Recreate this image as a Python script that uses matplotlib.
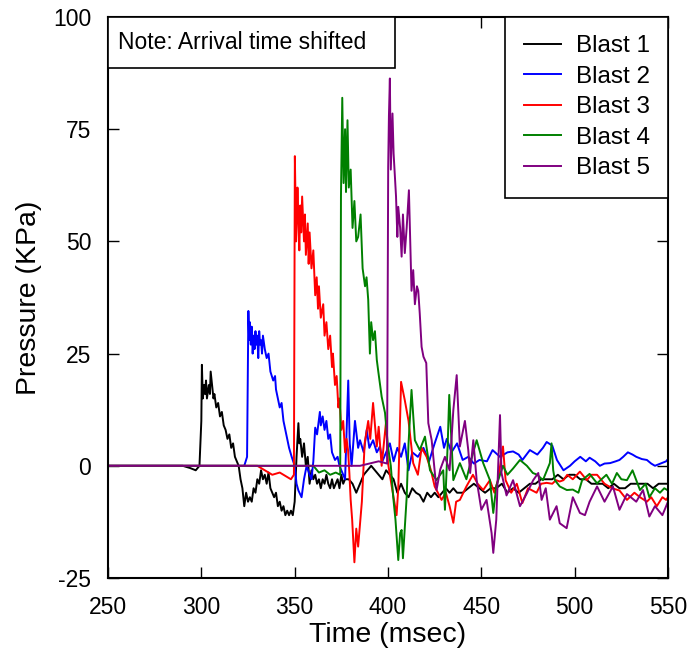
import numpy as np
import matplotlib
matplotlib.use("Agg")
import matplotlib.pyplot as plt
from matplotlib.patches import Rectangle

plt.rcParams['font.family'] = ['Liberation Sans', 'DejaVu Sans']
plt.rcParams['axes.unicode_minus'] = False

# Blast 1 (black)
t1 = [250, 290, 294, 297, 299, 300, 300.3, 300.8, 301.5, 302, 302.5, 303, 304, 304.6, 305, 306,
      306.5, 307, 308, 309, 310, 311, 312, 313, 314, 315, 316, 317, 318, 319, 320, 321, 322,
      323, 324, 325, 326, 327, 328, 329, 330, 331, 332, 333, 334, 335, 336, 337, 338, 339, 340,
      341, 342, 343, 344, 345, 346, 347, 348, 349, 350, 351, 352, 352.5, 353, 354, 355, 356,
      357, 358, 359, 360, 361, 362, 363, 364, 365, 366, 367, 368, 369, 370, 371, 372, 373, 374,
      375, 376, 377, 379, 381, 383, 385, 387, 389, 391, 393, 395, 397, 399, 401, 403, 405, 407,
      409, 411, 413, 415, 417, 419, 421, 423, 425, 427, 429, 431, 433, 435, 437, 440, 443, 446,
      449, 452, 455, 458, 461, 464, 467, 470, 473, 476, 479, 482, 485, 488, 491, 494, 497, 500,
      503, 506, 509, 512, 515, 518, 521, 524, 527, 530, 533, 536, 539, 542, 545, 548, 550]
p1 = [0, 0, -0.5, -1, 0, 10, 22.5, 15, 18, 16, 19, 15, 18, 16, 21, 17,
      15, 16, 13, 14, 11, 12, 9, 8, 6, 7, 4, 5, 2, 1, 0, -3, -5,
      -9, -6, -8, -7, -8, -5, -6, -3, -4, -1, -3, -2, -4, -1.5, -5, -6, -7, -6,
      -9, -8, -10, -9, -11, -10, -11, -10, -11, -8, 2, 9.5, 5, 6, 2, 5, 0,
      2, -4, -1, -3, -2, -4, -3, -5, -3, -4, -2, -4, -5, -3, -5, -4, -3, -5,
      -2, -4, -3, -3, -4, -6, -4, -2, -1, 0, -1, -2, -3, -1, -2, -3, -6, -4,
      -6, -7, -5, -6, -6.5, -8, -6, -7, -6, -7, -6, -5, -6, -5, -6, -6, -5, -4,
      -5, -6, -5, -5, -4, -6, -5, -6, -5, -4, -4, -3, -3, -3, -2, -3, -2, -2,
      -3, -3, -4, -4, -4, -5, -4, -5, -5, -4, -4, -4, -4, -5, -4, -4, -4]

# Blast 2 (blue)
t2 = [250, 323, 324.5, 325.2, 325.6, 326, 326.5, 327, 327.5, 328, 328.5, 329, 329.5, 330, 330.5,
      331, 331.5, 332, 332.5, 333, 334, 335, 336, 337, 338.5, 339.5, 340, 341, 342, 343, 344,
      345, 345.7, 347, 348.4, 350, 351, 352, 353.7, 355, 356.4, 358, 359, 360, 361, 362, 363.5,
      364, 365, 366, 367, 368, 369, 370, 371.6, 373, 374, 376, 377, 378.7, 379.5, 380.5, 382.3,
      384, 385, 387, 388.6, 390, 392, 394, 395.7, 397, 399, 401, 403, 405, 407, 409, 411, 413,
      416, 419, 422, 425, 428, 430, 431.5, 434, 437, 440, 443, 446, 449, 453, 456, 460, 464,
      467, 470, 472, 476, 480, 483, 485, 488, 490.5, 494, 497.5, 500, 503, 506, 508, 511, 513.5,
      516, 519, 522, 524, 526, 528.5, 531, 533, 536, 538.7, 541, 543, 546, 549, 550]
p2 = [0, 0, 2, 34.5, 28, 32, 27, 31, 25, 29, 26, 30, 27, 29, 24,
      30, 27, 28, 25, 29, 26, 24, 25, 21, 19, 20, 17, 15, 13, 14, 10,
      8, 6.5, 4, 2, 0, -4, -5.5, -7, -3, 0, -2, -3, 1, 8.5, 7, 12,
      9, 11, 8, 10, 6, 7, 3, 1.3, 2, 0, -2, -3, 19, 5, 0, 10,
      4, 5.7, 3, 8, 4, 5.7, 3, 4.3, 1, 3, 5, 1, 4, 2, 5, -1, 3,
      2, 4, 1, 5, 8.7, 4, 6, 3, 5, 1.3, 2, 0.5, 1.3, 1, 3.5, 2, 3,
      3.2, 2.5, 1.3, 3.5, 2.5, 4, 5.3, 4.5, 1.3, -1, 0, 1, 2, 1, 1.8, 1, 0,
      0.5, 0.6, 1, 1.3, 2, 3, 2.5, 2, 1.5, 1.3, 0.5, 0, 0.5, 1, 1.5]

# Blast 3 (red)
t3 = [250, 330, 334, 338, 342, 346, 348, 349.6, 350.1, 350.8, 351.5, 352, 352.5, 353, 353.5,
      354, 355, 355.5, 356, 357, 357.5, 358, 359, 360, 361, 361.8, 362.5, 363, 364, 365.3, 366,
      367, 368, 369, 370, 370.5, 371.6, 372.5, 373.4, 374, 375, 376, 377, 377.8, 378.6, 379.3,
      380, 380.8, 382, 383, 384, 386, 387.5, 389.4, 390.5, 392, 394, 395, 396.6, 399, 400, 402,
      404.6, 405.5, 407, 409, 411, 413.5, 416, 418, 420.7, 423, 425, 428.7, 431, 433, 435, 436.5,
      438.5, 442, 445.5, 448, 451, 454.6, 457, 459, 461.6, 463, 466, 469, 472, 475, 479.6, 482,
      485, 488, 490, 492, 494, 496, 499, 502.8, 506.5, 509, 512, 516, 520, 524, 528, 532, 535,
      538.7, 541, 544, 547, 549, 550]
p3 = [0, 0, -1, -2, -1.5, -2.5, -3, -2, 69, 50, 62, 55, 48, 58, 52,
      60, 50, 56, 47, 54, 45, 52, 44, 48, 38, 42, 35, 40, 33, 36, 29,
      32, 26, 29, 22, 25, 18, 20, 13, 15, 8, 10, 3, 6, 3.5, -1.6,
      -7.6, -12, -21.5, -14, -18, -8, 5, 10, 6, 14, 4.3, 8.7, 0, 10, 0.6, -4.6,
      -11, -5, 18.7, 14.6, 10, 0.6, -2, 4, 2, -1, -4.6, -7.6, -6, -9, -12.7, -8,
      -7.6, -4.6, -2, -4, -5.4, -3.2, -6, -3, 4.3, -3.2, -6, -4, -8.3, -5, -6, -4,
      -3.8, -4, -3.2, -3.5, -3.2, -2, -3, -1.3, -3.2, -2, -2, -4, -5, -5.5, -7.6, -6, -7,
      -8, -7, -9, -7, -7.6, -7]

# Blast 4 (green)
t4 = [250, 360, 363, 366, 369, 372, 374.4, 374.8, 375.5, 376.2, 377, 377.5, 378.3, 379, 380,
      381, 382, 383, 384, 385.3, 386.4, 387.7, 388.5, 389.4, 390.3, 391, 392, 393, 394, 394.8,
      396.6, 398.4, 400, 401.5, 402.8, 404, 405.5, 406.5, 407.3, 408, 410, 411, 412.6, 414.4,
      417, 419.8, 422.5, 426, 429.6, 430.5, 432, 432.8, 435, 438.5, 442, 445, 447.5, 451, 454.6,
      456.4, 458, 461.6, 464, 467, 470.7, 474.4, 477.6, 480, 483, 486.7, 487.6, 488.5, 489.4, 492,
      495.8, 499, 502, 504, 508, 512, 517, 520, 522.6, 525, 528, 531, 535, 538, 540, 543, 545.7,
      548, 550]
p4 = [0, 0, -1.5, -1, -2, -1.5, -2, 60, 82, 63, 75, 61, 77, 62, 66,
      53, 59, 50, 51, 56, 44, 40, 42, 37, 25, 32, 28, 30, 23.6, 21,
      15.4, 11.8, 4.3, 0, -7, -12, -21, -15, -14.3, -20.6, -7, 5, 16.9, 5.7,
      3.5, 6.5, -1, -3.2, -1, -9.8, 5, 15.8, -3.2, 0.6, -3, 2, 5.7, 0.6, -3.2,
      -10.5, -4.5, 0, -2, -0.6, 1.3, 0, -1.6, -2, -3.2, 0.6, 5, -1, -3.2, -4.6,
      -5.4, -5.3, -6, -3.2, -1.8, -3.9, -2, -4, -1.6, -3, -3.2, -1, -5.4, -4, -7, -5, -6,
      -5, -5.5]

# Blast 5 (purple)
t5 = [250, 385, 390, 395, 399.5, 400.1, 400.5, 401, 401.5, 402.4, 403, 404.3, 405, 405.5, 406.5,
      407.3, 408, 409, 410, 411.2, 412.6, 413.5, 414.4, 415.5, 416.2, 417, 418, 419, 420.5, 421.6,
      423.4, 426, 428, 430.5, 433, 435, 436.8, 438.5, 441.2, 443, 444, 445.7, 447.5, 450, 452.8,
      455.5, 456.4, 458, 460, 460.8, 463.5, 467, 470.7, 474.3, 477.8, 480.5, 482.3, 484.5, 486.7,
      490.3, 492, 495.7, 499, 502.8, 505.5, 508, 512, 516, 520.5, 524, 528, 533, 536.6, 540, 543,
      547, 550]
p5 = [0, 0, 0.5, 1, 0.5, 66.6, 78, 86.3, 66, 78.5, 69.6, 60, 51, 57.7, 53,
      46.6, 56, 47.4, 53, 61.4, 39, 43.6, 36, 40, 39, 34, 26.5, 24.3, 22.9, 9.5,
      5.7, -5.4, -0.8, 2, -1, 12.4, 20.2, 4.3, 10, 3.5, -1.6, 5.7, -3.2, -9.8, -7.6,
      -15, -19.4, -12, 11.3, -1.6, -6.6, -3.2, -9, -6.2, -3.2, -1.6, -7.6, -5, -12,
      -9, -12.8, -13.9, -7, -10.5, -11, -8, -4.6, -8, -4.6, -9.8, -6.3, -8, -5.4, -11.3, -9,
      -11, -8]

series = [(t1, p1, 'black', 'Blast 1'),
          (t2, p2, 'blue', 'Blast 2'),
          (t3, p3, 'red', 'Blast 3'),
          (t4, p4, 'green', 'Blast 4'),
          (t5, p5, 'purple', 'Blast 5')]

fig = plt.figure(figsize=(6.92, 6.56), dpi=100)
ax = fig.add_axes([108/692, 78/656, 560/692, 561/656])

for t, p, c, lab in series:
    ax.plot(t, p, color=c, lw=1.4, label=lab)

ax.set_xlim(250, 550)
ax.set_ylim(-25, 100)
ax.set_xticks(np.arange(250, 551, 50))
ax.set_yticks(np.arange(-25, 101, 25))
ax.tick_params(direction='in', top=True, right=True, length=8, width=1,
               labelsize=16.5)
ax.tick_params(axis='x', pad=13)
ax.tick_params(axis='y', pad=12)
for s in ax.spines.values():
    s.set_linewidth(1.5)
ax.set_xlabel('Time (msec)', fontsize=20.5, labelpad=2)
ax.set_ylabel('Pressure (KPa)', fontsize=20.5, labelpad=8)

leg = ax.legend(loc='upper right', fontsize=17.5, fancybox=False, framealpha=1,
                edgecolor='black', borderaxespad=0, handlelength=1.55,
                handletextpad=0.6, labelspacing=0.35, borderpad=0.75)
leg.get_frame().set_linewidth(1.2)

# note box in upper left corner
ax.add_patch(Rectangle((0, 0.909), 0.5125, 0.091, transform=ax.transAxes,
                       facecolor='white', edgecolor='black', lw=1.2, zorder=5))
ax.text(0.018, 0.954, 'Note: Arrival time shifted', transform=ax.transAxes,
        fontsize=16.5, va='center', ha='left', zorder=6)

plt.savefig('out.png', dpi=100)
